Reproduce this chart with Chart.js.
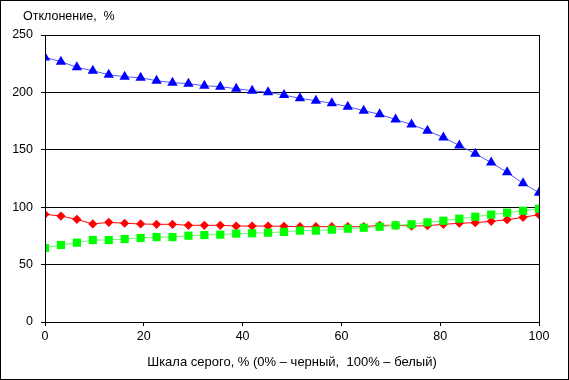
<!DOCTYPE html>
<html><head><meta charset="utf-8">
<script src="https://cdn.jsdelivr.net/npm/chart.js@4/dist/chart.umd.min.js"></script>
<style>html,body{margin:0;padding:0;background:#fff}#wrap{width:569px;height:380px}</style>
</head><body><div id="wrap"><canvas id="c" width="569" height="380"></canvas></div>
<script>
const xValues = [0,3.226,6.452,9.677,12.903,16.129,19.355,22.581,25.806,29.032,32.258,35.484,38.710,41.935,45.161,48.387,51.613,54.839,58.065,61.290,64.516,67.742,70.968,74.194,77.419,80.645,83.871,87.097,90.323,93.548,96.774,100];
const blueValues = [230.5,226.8,221.8,218.9,215.4,213.7,212.8,210.2,208.5,207.6,205.8,205,203.2,201.5,200.1,197.7,194.8,192.8,190.5,187.6,184.1,180.9,176.3,172.1,166.7,160.7,153.8,146.6,138.9,130.4,120.8,112.6];
const redValues = [93.8,92.3,89.4,85.4,86.8,86,85.4,85.1,85.1,84.2,84.2,84.2,83.6,83.6,83.6,83.3,83,83,83,83,83,84.2,84.2,83.6,83.9,85.1,86,86.5,87.7,89.1,91.2,93.5];
const greenValues = [64.5,67.1,69.1,71.4,71.4,72.3,73.2,74,74,75.2,75.8,76.1,77,77.3,77.8,78.5,79.6,79.6,80.4,81.3,82.1,83,84.2,85.1,86.8,88.2,90,91.7,93.5,95.2,96.9,98.7];
const xTicks = [0,20,40,60,80,100];
const yTicks = [0,50,100,150,200,250];
const titleText = 'Отклонение,  %';
const xTitle = 'Шкала серого, % (0% – черный,  100% – белый)';

const toPts = v => v.map((y,i)=>({x:xValues[i], y}));
const FONT = 'Liberation Sans, Arial, sans-serif';

const frame = {
  id:'frame',
  afterDraw(chart){
    const {ctx, chartArea:a} = chart;
    ctx.save();
    ctx.strokeStyle='#000'; ctx.lineWidth=1;
    ctx.strokeRect(Math.round(a.left)+0.5, Math.round(a.top)+0.5, Math.round(a.right-a.left), Math.round(a.bottom-a.top));
    ctx.strokeRect(0.5,0.5,chart.width-1,chart.height-1);
    ctx.fillStyle='#000';
    ctx.font = '12.5px ' + FONT;
    ctx.textBaseline='middle'; ctx.textAlign='left';
    ctx.fillText(titleText, 23, 17);
    ctx.restore();
  }
};

new Chart(document.getElementById('c'), {
  type:'line',
  data:{datasets:[
    {data:toPts(greenValues), borderColor:'#66ff66', backgroundColor:'#00ff00', pointStyle:'rect', pointRadius:5.8, pointBorderWidth:0, borderWidth:1},
    {data:toPts(redValues), borderColor:'#ff0000', backgroundColor:'#ff0000', pointStyle:'rectRot', pointRadius:4.6, pointBorderWidth:0, borderWidth:1},
    {data:toPts(blueValues), borderColor:'#5555ff', backgroundColor:'#0000ff', pointStyle:'triangle', pointRadius:6, pointBorderWidth:0, borderWidth:1}
  ]},
  options:{
    responsive:false, animation:false, devicePixelRatio:1,
    layout:{padding:{left:0,right:30,top:35,bottom:0}},
    plugins:{ legend:{display:false}, tooltip:{enabled:false}, title:{display:false} },
    elements:{line:{tension:0}},
    scales:{
      x:{type:'linear', min:0, max:100,
        afterBuildTicks(s){ s.ticks = xTicks.map(v=>({value:v})); },
        afterFit(s){ s.height = 58; },
        grid:{drawOnChartArea:false, drawTicks:true, tickLength:4, color:'#000'},
        border:{color:'#000'},
        ticks:{color:'#000', font:{family:FONT,size:12.5}, padding:3, maxRotation:0},
        title:{display:true, text:xTitle, color:'#000', font:{family:FONT,size:13}, padding:{top:0,bottom:10}}
      },
      y:{min:0, max:250,
        afterBuildTicks(s){ s.ticks = yTicks.map(v=>({value:v})); },
        afterFit(s){ s.width = 45; },
        grid:{color:'#000', tickLength:4},
        border:{color:'#000'},
        ticks:{color:'#000', font:{family:FONT,size:12.5}, padding:8}
      }
    }
  },
  plugins:[frame]
});
</script></body></html>
